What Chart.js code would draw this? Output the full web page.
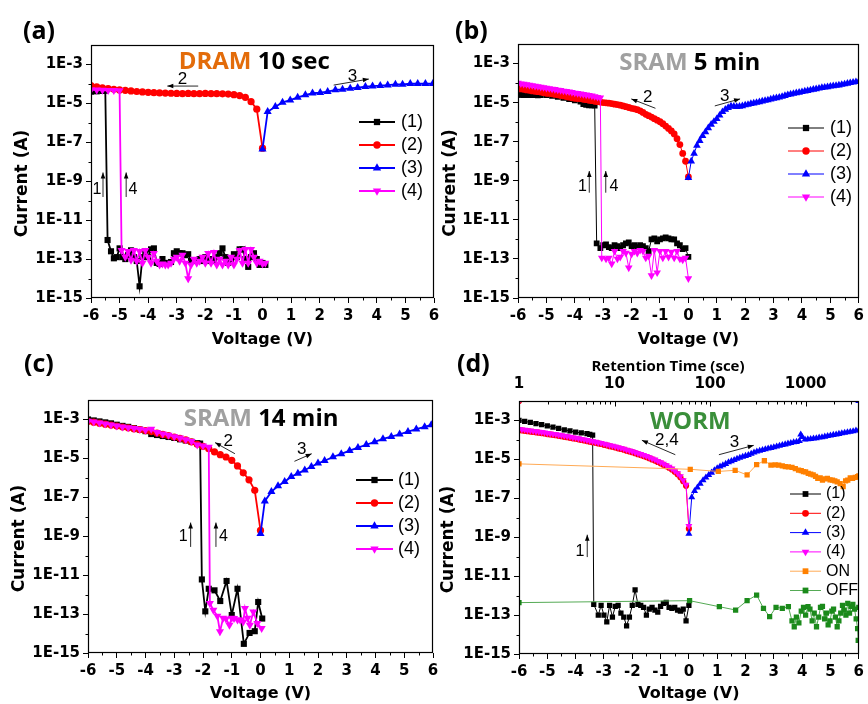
<!DOCTYPE html>
<html><head><meta charset="utf-8">
<script src="https://cdn.jsdelivr.net/npm/chart.js@4.4.1/dist/chart.umd.min.js"></script>
<style>
html,body{margin:0;padding:0;background:#fff;}
body{width:868px;height:704px;position:relative;overflow:hidden;}
canvas{position:absolute;}
</style></head><body>
<canvas id="ca" width="452" height="352" style="left:0px;top:0px"></canvas>
<canvas id="cb" width="434" height="352" style="left:434px;top:0px"></canvas>
<canvas id="cc" width="452" height="352" style="left:0px;top:352px"></canvas>
<canvas id="cd" width="434" height="352" style="left:434px;top:352px"></canvas>
<script>
// ---------- DATA: [voltage (V), log10 current (A)] ----------
const Y_LABEL_EXP = [-15,-13,-11,-9,-7,-5,-3];
const X_MINOR = [-5.5,-4.5,-3.5,-2.5,-1.5,-0.5,0.5,1.5,2.5,3.5,4.5,5.5];
const Y_MINOR_EXP = [-14,-12,-10,-8,-6,-4];
const TIME_TICKS = [1,10,100,1000];
const TIME_MINOR = [2,3,4,5,6,7,8,9,20,30,40,50,60,70,80,90,200,300,400,500,600,700,800,900,2000,3000];

// (a) DRAM 10 sec
const a1 = [[-6,-4.40],[-5.8,-4.38],[-5.6,-4.36],[-5.5,-4.35],[-5.42,-12.02],[-5.3,-12.6],[-5.2,-12.96],[-5.1,-12.9],[-5.0,-12.45],[-4.9,-12.9],[-4.8,-13.0],[-4.7,-12.8],[-4.6,-12.55],[-4.5,-12.9],[-4.4,-13.1],[-4.3,-14.4],[-4.2,-12.9],[-4.1,-12.7],[-4.0,-12.9],[-3.9,-12.5],[-3.8,-12.45],[-3.7,-13.2],[-3.6,-13.25],[-3.5,-13.0],[-3.4,-13.2],[-3.3,-13.2],[-3.2,-13.15],[-3.1,-12.7],[-3.0,-12.6],[-2.9,-12.7],[-2.8,-12.7],[-2.7,-12.8],[-2.6,-12.75],[-2.5,-13.1],[-2.4,-13.1],[-2.3,-13.05],[-2.2,-13.0],[-2.1,-13.1],[-2.0,-12.9],[-1.9,-13.1],[-1.8,-13.0],[-1.7,-13.1],[-1.6,-12.9],[-1.5,-12.7],[-1.4,-12.45],[-1.3,-12.9],[-1.2,-13.2],[-1.1,-13.0],[-1.0,-12.75],[-0.9,-12.9],[-0.8,-12.5],[-0.7,-12.5],[-0.6,-13.0],[-0.5,-13.4],[-0.4,-12.9],[-0.3,-12.7],[-0.2,-13.0],[-0.1,-13.3],[0.0,-13.2],[0.1,-13.3]];
const a2 = [[0,-7.3],[-0.2,-5.3],[-0.4,-4.91],[-0.6,-4.69],[-0.8,-4.6],[-1.0,-4.55],[-1.2,-4.52],[-1.4,-4.51],[-1.6,-4.5],[-1.8,-4.5],[-2.0,-4.49],[-2.2,-4.5],[-2.4,-4.5],[-2.6,-4.49],[-2.8,-4.5],[-3.0,-4.49],[-3.2,-4.48],[-3.4,-4.47],[-3.6,-4.46],[-3.8,-4.45],[-4.0,-4.43],[-4.2,-4.41],[-4.4,-4.39],[-4.6,-4.36],[-4.8,-4.33],[-5.0,-4.31],[-5.2,-4.28],[-5.4,-4.24],[-5.6,-4.2],[-5.8,-4.15],[-6.0,-4.08]];
const a3 = [[0,-7.35],[0.18,-5.43],[0.45,-5.17],[0.7,-4.95],[0.97,-4.83],[1.23,-4.69],[1.5,-4.57],[1.75,-4.48],[2.02,-4.45],[2.28,-4.4],[2.55,-4.31],[2.8,-4.28],[3.07,-4.23],[3.33,-4.19],[3.6,-4.14],[3.85,-4.11],[4.12,-4.09],[4.38,-4.06],[4.65,-4.02],[4.9,-4.02],[5.17,-3.99],[5.43,-3.99],[5.7,-3.99],[5.96,-3.99]];
const a4 = [[-6,-4.3],[-5.8,-4.31],[-5.6,-4.32],[-5.4,-4.33],[-5.2,-4.33],[-5.0,-4.34],[-4.93,-12.55],[-4.8,-12.9],[-4.7,-12.6],[-4.6,-13.05],[-4.5,-12.55],[-4.4,-13.1],[-4.3,-12.6],[-4.2,-13.2],[-4.1,-12.55],[-4.0,-12.9],[-3.9,-13.2],[-3.8,-12.7],[-3.7,-13.1],[-3.6,-13.3],[-3.5,-13.25],[-3.4,-13.3],[-3.3,-13.3],[-3.2,-13.2],[-3.1,-13.0],[-3.0,-12.9],[-2.9,-13.1],[-2.8,-12.8],[-2.7,-13.2],[-2.6,-14.0],[-2.5,-13.3],[-2.4,-13.0],[-2.3,-13.2],[-2.2,-13.1],[-2.1,-12.9],[-2.0,-13.2],[-1.9,-12.7],[-1.8,-13.2],[-1.7,-12.65],[-1.6,-13.3],[-1.5,-13.0],[-1.4,-13.3],[-1.3,-13.1],[-1.2,-13.3],[-1.1,-12.9],[-1.0,-13.3],[-0.9,-13.0],[-0.8,-12.55],[-0.7,-13.2],[-0.6,-12.5],[-0.5,-13.2],[-0.4,-12.5],[-0.3,-12.9],[-0.2,-13.2],[-0.1,-13.1],[0.0,-13.25],[0.1,-13.2]];

// (b) SRAM 5 min
const b1 = [[-6,-4.6],[-5.9,-4.6],[-5.8,-4.61],[-5.7,-4.61],[-5.6,-4.62],[-5.5,-4.62],[-5.4,-4.62],[-5.3,-4.63],[-5.2,-4.62],[-5.0,-4.62],[-4.8,-4.65],[-4.6,-4.7],[-4.4,-4.76],[-4.2,-4.82],[-4.0,-4.88],[-3.8,-4.95],[-3.7,-5.08],[-3.6,-5.12],[-3.5,-5.14],[-3.4,-5.14],[-3.3,-5.15],[-3.23,-12.2],[-3.1,-12.45],[-3.0,-12.3],[-2.9,-12.25],[-2.8,-12.4],[-2.7,-12.45],[-2.6,-12.3],[-2.5,-12.35],[-2.4,-12.45],[-2.3,-12.3],[-2.2,-12.2],[-2.1,-12.15],[-2.0,-12.35],[-1.9,-12.3],[-1.8,-12.4],[-1.7,-12.3],[-1.6,-12.35],[-1.5,-12.45],[-1.4,-12.6],[-1.3,-12.0],[-1.2,-11.95],[-1.1,-12.1],[-1.0,-12.0],[-0.9,-11.95],[-0.8,-11.9],[-0.7,-11.95],[-0.6,-12.0],[-0.5,-12.0],[-0.4,-12.2],[-0.3,-12.3],[-0.2,-12.5],[-0.1,-12.45],[0.0,-12.9]];
const b2 = [[0,-8.8],[-0.1,-8.0],[-0.2,-7.6],[-0.3,-7.15],[-0.4,-6.85],[-0.5,-6.6],[-0.6,-6.45],[-0.7,-6.32],[-0.8,-6.2],[-0.9,-6.08],[-1.0,-5.98],[-1.1,-5.9],[-1.2,-5.82],[-1.3,-5.74],[-1.4,-5.67],[-1.5,-5.6],[-1.6,-5.5],[-1.7,-5.42],[-1.8,-5.36],[-1.9,-5.32],[-2.0,-5.29],[-2.1,-5.25],[-2.2,-5.21],[-2.3,-5.17],[-2.4,-5.13],[-2.5,-5.1],[-2.6,-5.08],[-2.7,-5.05],[-2.8,-5.03],[-2.9,-5.01],[-3.0,-5.0],[-3.1,-4.97],[-3.2,-4.95],[-3.3,-4.93],[-3.4,-4.9],[-3.5,-4.88],[-3.6,-4.85],[-3.7,-4.83],[-3.8,-4.8],[-3.9,-4.79],[-4.0,-4.78],[-4.1,-4.75],[-4.2,-4.72],[-4.3,-4.69],[-4.4,-4.66],[-4.5,-4.63],[-4.6,-4.6],[-4.7,-4.58],[-4.8,-4.55],[-4.9,-4.53],[-5.0,-4.52],[-5.1,-4.49],[-5.2,-4.46],[-5.3,-4.44],[-5.4,-4.42],[-5.5,-4.4],[-5.6,-4.37],[-5.7,-4.35],[-5.8,-4.32],[-5.9,-4.3],[-6.0,-4.27]];
const b3 = [[0,-8.85],[0.1,-8.0],[0.2,-7.6],[0.3,-7.2],[0.4,-6.95],[0.5,-6.7],[0.6,-6.5],[0.7,-6.3],[0.8,-6.12],[0.9,-5.97],[1.0,-5.83],[1.1,-5.65],[1.2,-5.47],[1.3,-5.35],[1.4,-5.26],[1.5,-5.18],[1.6,-5.2],[1.7,-5.21],[1.8,-5.2],[1.9,-5.17],[2.0,-5.13],[2.1,-5.1],[2.2,-5.06],[2.3,-5.03],[2.4,-5.0],[2.5,-4.97],[2.6,-4.93],[2.7,-4.9],[2.8,-4.87],[2.9,-4.83],[3.0,-4.79],[3.1,-4.76],[3.2,-4.73],[3.3,-4.69],[3.4,-4.65],[3.5,-4.6],[3.6,-4.57],[3.7,-4.54],[3.8,-4.51],[3.9,-4.48],[4.0,-4.45],[4.1,-4.42],[4.2,-4.39],[4.3,-4.36],[4.4,-4.33],[4.5,-4.3],[4.6,-4.27],[4.7,-4.24],[4.8,-4.22],[4.9,-4.2],[5.0,-4.17],[5.1,-4.15],[5.2,-4.13],[5.3,-4.11],[5.4,-4.08],[5.5,-4.05],[5.6,-4.02],[5.7,-3.99],[5.8,-3.96],[5.9,-3.94],[6.0,-3.92]];
const b4 = [[-6,-4.0],[-5.9,-4.03],[-5.8,-4.05],[-5.7,-4.07],[-5.6,-4.1],[-5.5,-4.12],[-5.4,-4.15],[-5.3,-4.17],[-5.2,-4.2],[-5.1,-4.22],[-5.0,-4.25],[-4.9,-4.27],[-4.8,-4.3],[-4.7,-4.32],[-4.6,-4.35],[-4.5,-4.37],[-4.4,-4.4],[-4.3,-4.42],[-4.2,-4.44],[-4.1,-4.47],[-4.0,-4.5],[-3.9,-4.52],[-3.8,-4.55],[-3.7,-4.57],[-3.6,-4.6],[-3.5,-4.62],[-3.4,-4.65],[-3.3,-4.68],[-3.2,-4.72],[-3.1,-4.75],[-3.05,-12.95],[-2.9,-13.0],[-2.8,-12.95],[-2.7,-13.25],[-2.6,-12.6],[-2.5,-13.0],[-2.4,-12.9],[-2.3,-12.6],[-2.2,-12.7],[-2.1,-13.45],[-2.0,-12.75],[-1.9,-12.6],[-1.8,-12.7],[-1.7,-12.55],[-1.6,-12.6],[-1.5,-12.95],[-1.4,-12.85],[-1.3,-13.85],[-1.2,-12.55],[-1.1,-13.7],[-1.0,-12.6],[-0.9,-12.95],[-0.8,-12.6],[-0.7,-12.9],[-0.6,-12.65],[-0.5,-12.95],[-0.4,-12.6],[-0.3,-13.0],[-0.2,-13.05],[-0.1,-12.95],[0.0,-14.0]];

// (c) SRAM 14 min
const c1 = [[-6,-3.0],[-5.8,-3.05],[-5.6,-3.1],[-5.4,-3.15],[-5.2,-3.2],[-5.0,-3.27],[-4.8,-3.33],[-4.6,-3.38],[-4.4,-3.45],[-4.2,-3.52],[-4.0,-3.6],[-3.8,-3.75],[-3.6,-3.8],[-3.4,-3.85],[-3.2,-3.9],[-3.0,-3.95],[-2.8,-4.02],[-2.6,-4.08],[-2.4,-4.15],[-2.2,-4.22],[-2.1,-4.24],[-2.04,-11.22],[-1.92,-12.86],[-1.8,-11.7],[-1.6,-11.78],[-1.4,-12.33],[-1.18,-11.3],[-1.0,-13.05],[-0.8,-11.7],[-0.58,-14.53],[-0.38,-13.97],[-0.2,-13.88],[-0.08,-12.38],[0.06,-13.23]];
const c2 = [[0,-8.7],[-0.2,-6.64],[-0.4,-6.1],[-0.6,-5.74],[-0.8,-5.39],[-1.0,-5.1],[-1.2,-4.93],[-1.4,-4.81],[-1.6,-4.67],[-1.8,-4.5],[-2.0,-4.38],[-2.2,-4.28],[-2.4,-4.15],[-2.6,-4.05],[-2.8,-3.97],[-3.0,-3.9],[-3.2,-3.83],[-3.4,-3.77],[-3.6,-3.7],[-3.8,-3.62],[-4.0,-3.57],[-4.2,-3.52],[-4.4,-3.48],[-4.6,-3.43],[-4.8,-3.39],[-5.0,-3.34],[-5.2,-3.29],[-5.4,-3.24],[-5.6,-3.19],[-5.8,-3.14],[-6.0,-3.1]];
const c3 = [[0,-8.87],[0.15,-7.2],[0.38,-6.71],[0.61,-6.42],[0.84,-6.2],[1.07,-5.94],[1.3,-5.77],[1.54,-5.6],[1.77,-5.43],[2.0,-5.25],[2.23,-5.12],[2.52,-4.93],[2.81,-4.77],[3.1,-4.6],[3.39,-4.45],[3.68,-4.3],[3.97,-4.15],[4.26,-4.0],[4.55,-3.88],[4.84,-3.76],[5.13,-3.63],[5.42,-3.5],[5.71,-3.38],[5.94,-3.28]];
const c4 = [[-6,-3.08],[-5.8,-3.12],[-5.6,-3.17],[-5.4,-3.22],[-5.2,-3.27],[-5.0,-3.33],[-4.8,-3.38],[-4.6,-3.42],[-4.4,-3.46],[-4.2,-3.5],[-4.0,-3.55],[-3.8,-3.5],[-3.6,-3.66],[-3.4,-3.74],[-3.2,-3.8],[-3.0,-3.88],[-2.8,-3.95],[-2.6,-4.03],[-2.4,-4.12],[-2.2,-4.3],[-2.0,-4.36],[-1.8,-4.42],[-1.76,-12.45],[-1.64,-12.79],[-1.5,-13.1],[-1.41,-13.9],[-1.3,-13.2],[-1.2,-13.25],[-1.08,-13.56],[-1.0,-13.2],[-0.92,-13.22],[-0.8,-13.3],[-0.71,-13.3],[-0.6,-13.4],[-0.54,-12.7],[-0.45,-13.2],[-0.37,-13.56],[-0.25,-12.88],[-0.11,-13.47],[0.04,-13.73]];

// (d) WORM
const d1 = [[-6,-3.0],[-5.8,-3.05],[-5.6,-3.1],[-5.4,-3.16],[-5.2,-3.22],[-5.0,-3.28],[-4.8,-3.34],[-4.6,-3.41],[-4.4,-3.48],[-4.2,-3.54],[-4.0,-3.6],[-3.8,-3.64],[-3.6,-3.68],[-3.5,-3.72],[-3.4,-3.75],[-3.36,-12.45],[-3.2,-13.0],[-3.1,-12.5],[-3.0,-13.0],[-2.9,-13.35],[-2.8,-12.5],[-2.7,-13.1],[-2.6,-12.55],[-2.5,-12.5],[-2.4,-12.9],[-2.3,-13.1],[-2.2,-13.55],[-2.1,-13.1],[-2.0,-12.5],[-1.9,-11.7],[-1.8,-12.45],[-1.7,-12.5],[-1.6,-12.6],[-1.5,-13.0],[-1.4,-12.7],[-1.3,-12.6],[-1.2,-12.75],[-1.1,-12.85],[-1.0,-12.55],[-0.9,-12.4],[-0.8,-12.35],[-0.7,-12.6],[-0.6,-12.65],[-0.5,-12.6],[-0.4,-12.75],[-0.3,-12.8],[-0.2,-12.7],[-0.1,-13.3],[0.0,-12.5]];
const d2 = [[0,-8.56],[-0.1,-6.35],[-0.2,-6.12],[-0.3,-5.92],[-0.4,-5.76],[-0.5,-5.63],[-0.6,-5.52],[-0.7,-5.43],[-0.8,-5.35],[-0.9,-5.27],[-1.0,-5.2],[-1.1,-5.13],[-1.2,-5.06],[-1.3,-5.0],[-1.4,-4.94],[-1.5,-4.88],[-1.6,-4.83],[-1.7,-4.78],[-1.8,-4.73],[-1.9,-4.68],[-2.0,-4.63],[-2.1,-4.59],[-2.2,-4.55],[-2.3,-4.5],[-2.4,-4.46],[-2.5,-4.43],[-2.6,-4.39],[-2.7,-4.35],[-2.8,-4.32],[-2.9,-4.28],[-3.0,-4.25],[-3.1,-4.21],[-3.2,-4.18],[-3.3,-4.15],[-3.4,-4.12],[-3.5,-4.09],[-3.6,-4.06],[-3.7,-4.03],[-3.8,-4.0],[-3.9,-3.97],[-4.0,-3.94],[-4.1,-3.92],[-4.2,-3.89],[-4.3,-3.86],[-4.4,-3.84],[-4.5,-3.81],[-4.6,-3.79],[-4.7,-3.76],[-4.8,-3.74],[-4.9,-3.72],[-5.0,-3.7],[-5.1,-3.67],[-5.2,-3.65],[-5.3,-3.63],[-5.4,-3.61],[-5.5,-3.59],[-5.6,-3.57],[-5.7,-3.55],[-5.8,-3.53],[-5.9,-3.51],[-6.0,-3.49],[-6.0,-2.0]];
const d3 = [[0,-8.82],[0.1,-6.95],[0.2,-6.62],[0.3,-6.45],[0.4,-6.25],[0.5,-6.07],[0.6,-5.93],[0.7,-5.8],[0.8,-5.68],[0.9,-5.56],[1.0,-5.46],[1.1,-5.37],[1.2,-5.3],[1.3,-5.23],[1.4,-5.15],[1.5,-5.09],[1.6,-5.03],[1.7,-4.97],[1.8,-4.92],[1.9,-4.87],[2.0,-4.82],[2.1,-4.77],[2.2,-4.71],[2.3,-4.65],[2.4,-4.59],[2.5,-4.56],[2.6,-4.52],[2.7,-4.48],[2.8,-4.44],[2.9,-4.41],[3.0,-4.38],[3.1,-4.34],[3.2,-4.3],[3.3,-4.26],[3.4,-4.23],[3.5,-4.19],[3.6,-4.16],[3.7,-4.12],[3.8,-4.1],[3.9,-4.06],[3.95,-3.72],[4.0,-3.85],[4.1,-3.98],[4.2,-3.97],[4.3,-3.95],[4.4,-3.93],[4.5,-3.91],[4.6,-3.88],[4.7,-3.86],[4.8,-3.83],[4.9,-3.8],[5.0,-3.77],[5.1,-3.74],[5.2,-3.72],[5.3,-3.69],[5.4,-3.66],[5.5,-3.63],[5.6,-3.61],[5.7,-3.58],[5.8,-3.55],[5.9,-3.52],[6.0,-3.5],[6.0,-2.0]];
const d4 = [[0,-8.42],[-0.1,-6.3],[-0.2,-6.07],[-0.3,-5.87],[-0.4,-5.71],[-0.5,-5.58],[-0.6,-5.47],[-0.7,-5.38],[-0.8,-5.3],[-0.9,-5.22],[-1.0,-5.15],[-1.1,-5.08],[-1.2,-5.01],[-1.3,-4.95],[-1.4,-4.89],[-1.5,-4.83],[-1.6,-4.78],[-1.7,-4.73],[-1.8,-4.68],[-1.9,-4.63],[-2.0,-4.58],[-2.1,-4.54],[-2.2,-4.5],[-2.3,-4.45],[-2.4,-4.41],[-2.5,-4.38],[-2.6,-4.34],[-2.7,-4.3],[-2.8,-4.27],[-2.9,-4.23],[-3.0,-4.2],[-3.1,-4.16],[-3.2,-4.13],[-3.3,-4.1],[-3.4,-4.07],[-3.5,-4.04],[-3.6,-4.01],[-3.7,-3.98],[-3.8,-3.95],[-3.9,-3.92],[-4.0,-3.89],[-4.1,-3.87],[-4.2,-3.84],[-4.3,-3.81],[-4.4,-3.79],[-4.5,-3.76],[-4.6,-3.74],[-4.7,-3.71],[-4.8,-3.69],[-4.9,-3.67],[-5.0,-3.65],[-5.1,-3.62],[-5.2,-3.6],[-5.3,-3.58],[-5.4,-3.56],[-5.5,-3.54],[-5.6,-3.52],[-5.7,-3.5],[-5.8,-3.48],[-5.9,-3.46],[-6.0,-3.44],[-6.0,-2.0]];
// retention: [time (s), log10 current (A)]
const dOn = [[1,-5.23],[62,-5.51],[122,-5.62],[183,-5.56],[244,-5.8],[307,-5.27],[370,-5.07],[433,-5.29],[480,-5.28],[523,-5.29],[570,-5.33],[613,-5.37],[660,-5.38],[720,-5.41],[780,-5.48],[843,-5.55],[900,-5.58],[948,-5.63],[1000,-5.64],[1065,-5.72],[1130,-5.76],[1200,-5.8],[1270,-5.87],[1340,-5.97],[1420,-5.95],[1500,-6.06],[1590,-6.0],[1690,-5.97],[1800,-6.05],[1910,-6.06],[2020,-6.1],[2140,-6.15],[2300,-6.25],[2470,-6.4],[2620,-6.1],[2760,-6.06],[2930,-5.95],[3100,-5.97],[3300,-5.92],[3500,-5.89],[3600,-5.85]];
const dOff = [[1,-12.36],[61,-12.26],[125,-12.57],[185,-12.74],[244,-12.26],[307,-11.97],[362,-12.65],[420,-13.08],[490,-12.6],[570,-12.65],[660,-12.57],[720,-13.3],[760,-13.6],[800,-13.1],[850,-13.4],[900,-12.8],[950,-12.6],[1000,-13.0],[1060,-12.57],[1110,-12.7],[1170,-13.3],[1230,-12.9],[1300,-13.6],[1370,-13.1],[1430,-12.6],[1500,-12.55],[1580,-13.2],[1650,-12.9],[1720,-13.5],[1800,-13.3],[1880,-12.8],[1960,-12.7],[2050,-13.1],[2140,-13.6],[2230,-13.3],[2330,-12.9],[2430,-12.5],[2530,-12.75],[2640,-13.0],[2760,-12.4],[2880,-12.9],[3000,-12.55],[3120,-12.45],[3250,-12.7],[3380,-13.2],[3500,-13.7],[3550,-14.3],[3600,-12.6]];

// ---------- STYLE ----------
const STY = {
  s1:{c:'#000000', ps:'rect', rot:0, order:5, rs:1.2},
  s2:{c:'#ff0000', ps:'circle', rot:0, order:4, rs:1.0},
  s3:{c:'#0000ff', ps:'triangle', rot:0, order:3, rs:1.3},
  s4:{c:'#ff00ff', ps:'triangle', rot:180, order:2, rs:1.3},
  on:{c:'#ff8000', lc:'#ffaa55', ps:'rect', rot:0, order:1, rs:1.2},
  off:{c:'#1b8a1b', lc:'#55aa55', ps:'rect', rot:0, order:0, rs:1.2}
};
const TICK_FONT = {family:'"DejaVu Sans", sans-serif', size:15, weight:'bold'};

function toXY(pairs){ return pairs.map(p => ({x:p[0], y:Math.pow(10, p[1])})); }

function drawMarker(ctx, ps, x, y, r, rot, color){
  ctx.fillStyle = color; ctx.beginPath();
  if (ps === 'circle') ctx.arc(x, y, r, 0, Math.PI*2);
  else if (ps === 'rect'){ const s = r*Math.SQRT1_2; ctx.rect(x-s, y-s, 2*s, 2*s); }
  else { let a = rot*Math.PI/180;
    ctx.moveTo(x+Math.sin(a)*r, y-Math.cos(a)*r); a += 2*Math.PI/3;
    ctx.lineTo(x+Math.sin(a)*r, y-Math.cos(a)*r); a += 2*Math.PI/3;
    ctx.lineTo(x+Math.sin(a)*r, y-Math.cos(a)*r); ctx.closePath(); }
  ctx.fill();
}

const decor = {
  id:'decor',
  afterDraw(chart){
    const o = chart.options.plugins.decor; if (!o) return;
    const ctx = chart.ctx, ca = chart.chartArea;
    const xs = chart.scales.x, ys = chart.scales.y;
    const X = v => xs.getPixelForValue(v), Y = e => ys.getPixelForValue(Math.pow(10, e));
    ctx.save();
    const L = Math.round(ca.left)+0.5, T = Math.round(ca.top)+0.5, R = Math.round(ca.right)-0.5, B = Math.round(ca.bottom)-0.5;
    ctx.strokeStyle = '#000'; ctx.lineWidth = 1.2;
    ctx.strokeRect(L, T, R-L, B-T);
    ctx.lineWidth = 1;
    ctx.beginPath();
    X_MINOR.forEach(v => { const x = Math.round(X(v))+0.5; ctx.moveTo(x, B); ctx.lineTo(x, B+3); });
    Y_MINOR_EXP.forEach(e => { const y = Math.round(Y(e))+0.5; ctx.moveTo(L, y); ctx.lineTo(L-3, y); });
    if (chart.scales.x2){
      const t2 = chart.scales.x2;
      TIME_TICKS.forEach(t => { const x = Math.round(t2.getPixelForValue(t))+0.5; ctx.moveTo(x, T); ctx.lineTo(x, T+5); });
      TIME_MINOR.forEach(t => { const x = Math.round(t2.getPixelForValue(t))+0.5; ctx.moveTo(x, T); ctx.lineTo(x, T+3); });
    }
    ctx.stroke();
    // axis titles
    ctx.fillStyle = '#000'; ctx.font = 'bold 16px "DejaVu Sans"';
    ctx.textAlign = 'center'; ctx.textBaseline = 'middle';
    ctx.fillText('Voltage (V)', (ca.left+ca.right)/2, ca.bottom + o.xTitleDy);
    ctx.save(); ctx.translate(ca.left - o.yTitleDx, (ca.top+ca.bottom)/2 + 12); ctx.rotate(-Math.PI/2);
    ctx.font = 'bold 17px "DejaVu Sans"';
    ctx.fillText('Current (A)', 0, 0); ctx.restore();
    if (o.topTitle){ ctx.font = 'bold 15px "Open Sans"'; ctx.fillText(o.topTitle[0], o.topTitle[1], o.topTitle[2]); }
    // panel letter
    ctx.textAlign = 'left'; ctx.font = 'bold 25px "Open Sans"';
    ctx.fillText(o.letter[0], o.letter[1], o.letter[2]);
    // chart title
    ctx.font = 'bold 24px "Open Sans"';
    const ws = o.title.parts.map(p => ctx.measureText(p[0]).width);
    let tx = X(o.title.at[0]) - ws.reduce((a,b)=>a+b,0)/2; const ty = Y(o.title.at[1]);
    o.title.parts.forEach((p,i) => { ctx.fillStyle = p[1]; ctx.fillText(p[0], tx, ty); tx += ws[i]; });
    // annotations
    ctx.fillStyle = '#000'; ctx.strokeStyle = '#111'; ctx.lineWidth = 0.9;
    o.ann.forEach(a => {
      if (a.arrow){
        const x1 = X(a.arrow[0][0]), y1 = Y(a.arrow[0][1]), x2 = X(a.arrow[1][0]), y2 = Y(a.arrow[1][1]);
        ctx.beginPath(); ctx.moveTo(x1,y1); ctx.lineTo(x2,y2); ctx.stroke();
        const ang = Math.atan2(y2-y1, x2-x1), hl = 6, hw = 2.3;
        ctx.beginPath(); ctx.moveTo(x2,y2);
        ctx.lineTo(x2 - hl*Math.cos(ang) + hw*Math.sin(ang), y2 - hl*Math.sin(ang) - hw*Math.cos(ang));
        ctx.lineTo(x2 - hl*Math.cos(ang) - hw*Math.sin(ang), y2 - hl*Math.sin(ang) + hw*Math.cos(ang));
        ctx.closePath(); ctx.fill();
      } else {
        ctx.font = (a.size||16) + 'px "Liberation Sans"'; ctx.textAlign = 'center'; ctx.textBaseline = 'middle';
        ctx.fillText(a.text, X(a.at[0]), Y(a.at[1]));
      }
    });
    // legend
    const lg = o.legend;
    ctx.font = lg.size + 'px "Liberation Sans"'; ctx.textAlign = 'left'; ctx.textBaseline = 'middle';
    lg.items.forEach((it, i) => {
      const st = STY[it[1]]; const y = lg.y0 + i*lg.dy;
      ctx.strokeStyle = st.lc || st.c; ctx.lineWidth = lg.lw;
      ctx.beginPath(); ctx.moveTo(lg.x0, y); ctx.lineTo(lg.x1, y); ctx.stroke();
      drawMarker(ctx, st.ps, (lg.x0+lg.x1)/2, y, lg.r*(st.rs||1), st.rot, st.c);
      ctx.fillStyle = '#000'; ctx.fillText(it[0], lg.tx, y);
    });
    ctx.restore();
  }
};

function makePanel(id, cfg){
  const datasets = cfg.series.map(s => {
    const st = STY[s[1]];
    return {label:s[0], data:toXY(s[2]), xAxisID:s[3]||'x', yAxisID:'y',
      borderColor:st.lc||st.c, backgroundColor:st.c, pointBackgroundColor:st.c, pointBorderColor:st.c,
      pointBorderWidth:0, pointStyle:st.ps, pointRotation:st.rot, pointRadius:cfg.r*(st.rs||1),
      pointHoverRadius:0, borderWidth:(s[1]==='on'||s[1]==='off')?1:cfg.lw, tension:0, fill:false, order:st.order};
  });
  const scales = {
    x:{type:'linear', position:'bottom', min:-6, max:6,
      ticks:{stepSize:1, font:TICK_FONT, color:'#000', padding:cfg.xPad, autoSkip:false, maxRotation:0, minRotation:0},
      grid:{display:true, drawOnChartArea:false, drawTicks:true, tickLength:5, color:'#000', tickColor:'#000', tickWidth:1},
      border:{display:false}, afterFit:s => { s.height = cfg.xH; }},
    y:{type:'logarithmic', position:'left', min:1e-15, max:1e-2,
      afterBuildTicks:s => { s.ticks = Y_LABEL_EXP.map(k => ({value:Number('1e'+k)})); },
      ticks:{font:TICK_FONT, color:'#000', padding:3, autoSkip:false, callback:v => '1E' + Math.round(Math.log10(v))},
      grid:{display:true, drawOnChartArea:false, drawTicks:true, tickLength:5, color:'#000', tickColor:'#000', tickWidth:1},
      border:{display:false}, afterFit:s => { s.width = cfg.yW; }}
  };
  if (cfg.x2H){
    scales.x2 = {type:'logarithmic', position:'top', min:1, max:3600,
      afterBuildTicks:s => { s.ticks = TIME_TICKS.map(v => ({value:v})); },
      ticks:{font:TICK_FONT, color:'#000', padding:8, autoSkip:false, maxRotation:0, minRotation:0, callback:v => String(v)},
      grid:{display:false, drawTicks:false}, border:{display:false}, afterFit:s => { s.height = cfg.x2H; }};
  }
  new Chart(document.getElementById(id), {
    type:'line', data:{datasets},
    options:{responsive:false, animation:false, events:[],
      layout:{padding:cfg.pad}, scales,
      plugins:{legend:{display:false}, tooltip:{enabled:false}, decor:cfg.decor}},
    plugins:[decor]
  });
}

makePanel('ca', {r:3.6, lw:1.8, xPad:4, xH:54, yW:91, pad:{left:0, right:18, top:45, bottom:0},
  series:[['(1)','s1',a1],['(2)','s2',a2],['(3)','s3',a3],['(4)','s4',a4]],
  decor:{letter:['(a)',23,32], xTitleDy:42, yTitleDx:68,
    title:{parts:[['DRAM','#e36c0a'],[' 10 sec','#000']], at:[-0.29,-2.87]},
    ann:[{arrow:[[-2.25,-4.11],[-3.33,-4.11]]},{text:'2',at:[-2.8,-3.76],size:17},
         {arrow:[[2.49,-4.06],[3.72,-3.75]]},{text:'3',at:[3.15,-3.6],size:17},
         {arrow:[[-5.58,-9.81],[-5.58,-8.55]]},{text:'1',at:[-5.79,-9.45]},
         {arrow:[[-4.77,-9.81],[-4.77,-8.55]]},{text:'4',at:[-4.53,-9.45]}],
    legend:{x0:359, x1:395, tx:401, y0:122, dy:23, size:18, lw:1.8, r:3.7,
      items:[['(1)','s1'],['(2)','s2'],['(3)','s3'],['(4)','s4']]}}});

makePanel('cb', {r:3.4, lw:1, xPad:4, xH:54, yW:84, pad:{left:0, right:6, top:44, bottom:0},
  series:[['(1)','s1',b1],['(2)','s2',b2],['(3)','s3',b3],['(4)','s4',b4]],
  decor:{letter:['(b)',21,32], xTitleDy:42, yTitleDx:67,
    title:{parts:[['SRAM','#a0a0a0'],[' 5 min','#000']], at:[0.05,-2.97]},
    ann:[{arrow:[[-1.16,-5.29],[-2.01,-4.81]]},{text:'2',at:[-1.43,-4.73],size:17},
         {arrow:[[0.93,-5.17],[1.82,-4.81]]},{text:'3',at:[1.28,-4.7],size:17},
         {arrow:[[-3.49,-9.61],[-3.49,-8.5]]},{text:'1',at:[-3.73,-9.3]},
         {arrow:[[-2.91,-9.61],[-2.91,-8.5]]},{text:'4',at:[-2.62,-9.3]}],
    legend:{x0:354, x1:390, tx:396, y0:128, dy:23, size:18, lw:1, r:3.7,
      items:[['(1)','s1'],['(2)','s2'],['(3)','s3'],['(4)','s4']]}}});

makePanel('cc', {r:3.6, lw:1.8, xPad:4, xH:51, yW:88, pad:{left:0, right:19, top:48, bottom:0},
  series:[['(1)','s1',c1],['(2)','s2',c2],['(3)','s3',c3],['(4)','s4',c4]],
  decor:{letter:['(c)',24,13], xTitleDy:41, yTitleDx:68,
    title:{parts:[['SRAM','#a0a0a0'],[' 14 min','#000']], at:[0.02,-2.96]},
    ann:[{arrow:[[-0.89,-4.76],[-1.58,-4.19]]},{text:'2',at:[-1.12,-4.12],size:17},
         {arrow:[[1.18,-5.15],[1.78,-4.76]]},{text:'3',at:[1.43,-4.55],size:17},
         {arrow:[[-2.43,-9.55],[-2.43,-8.3]]},{text:'1',at:[-2.69,-9.04]},
         {arrow:[[-1.55,-9.55],[-1.55,-8.3]]},{text:'4',at:[-1.29,-9.04]}],
    legend:{x0:356, x1:393, tx:398, y0:128, dy:23, size:18, lw:1.8, r:3.7,
      items:[['(1)','s1'],['(2)','s2'],['(3)','s3'],['(4)','s4']]}}});

makePanel('cd', {r:3.1, lw:1, xPad:4, xH:50, x2H:49, yW:85, pad:{left:0, right:5, top:0, bottom:0},
  series:[['(1)','s1',d1],['(2)','s2',d2],['(3)','s3',d3],['(4)','s4',d4],['ON','on',dOn,'x2'],['OFF','off',dOff,'x2']],
  decor:{letter:['(d)',23,13], xTitleDy:40, yTitleDx:70, topTitle:['Retention Time (sce)',234,15],
    title:{parts:[['WORM','#3a8f3a']], at:[0.05,-3.08]},
    ann:[{arrow:[[-0.48,-4.76],[-1.66,-4.02]]},{text:'2,4',at:[-0.78,-4.0],size:17},
         {arrow:[[1.06,-4.76],[2.29,-4.28]]},{text:'3',at:[1.61,-4.11],size:17},
         {arrow:[[-3.59,-10.02],[-3.59,-8.87]]},{text:'1',at:[-3.85,-9.73]}],
    legend:{x0:356, x1:387, tx:392, y0:142, dy:19.3, size:16, lw:1, r:3.4,
      items:[['(1)','s1'],['(2)','s2'],['(3)','s3'],['(4)','s4'],['ON','on'],['OFF','off']]}}});
</script>
</body></html>
